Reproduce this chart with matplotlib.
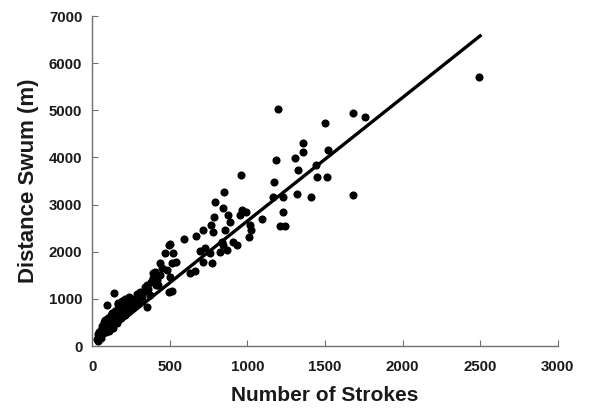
import matplotlib
matplotlib.use("Agg")
import matplotlib.pyplot as plt

# strokes vs distance
strokes = [30, 35, 40, 45, 50, 55, 60, 65, 70, 75, 80, 85, 90, 95, 95, 100, 105, 110, 115, 120,
           125, 130, 135, 140, 144, 150, 155, 160, 165, 169, 170, 175, 180, 185, 190, 200, 205, 210,
           215, 220, 230, 235, 240, 250, 255, 260, 270, 280, 290, 300, 310, 320, 330, 340, 352, 352,
           360, 373, 380, 391, 395, 406, 410, 420, 427, 438, 440, 450, 470, 481, 498, 498, 502, 502,
           513, 513, 524, 541,
           590, 631, 663, 668, 695, 717, 717, 728, 760, 764, 771, 777, 786, 792, 824, 840, 845, 845,
           850, 856, 867, 878, 889, 910, 932, 953, 957, 964, 992, 1013, 1017, 1022, 1093,
           1168, 1172, 1185, 1200, 1211, 1232, 1232, 1243, 1307, 1318, 1329, 1357, 1357, 1408, 1442,
           1447, 1500, 1511, 1522, 1678, 1683, 1758, 2490]
distance = [150, 250, 100, 300, 200, 350, 180, 420, 280, 500, 350, 560, 300, 450, 870, 400, 600, 330, 520, 650,
            450, 700, 380, 560, 1120, 750, 620, 480, 800, 905, 900, 700, 850, 600, 950, 780, 880, 650,
            1000, 820, 900, 750, 1050, 850, 950, 800, 1000, 900, 1100, 950, 1150, 1050, 1152, 1250, 834, 1294,
            1200, 1082, 1350, 1542, 1436, 1576, 1300, 1400, 1294, 1754, 1500, 1650, 1966, 1612, 1152, 2143, 1470, 2164,
            1173, 1754, 1966, 1789,
            2270, 1542, 1597, 2330, 2022, 2461, 1789, 2072, 1966, 2567, 1754, 2425, 2729, 3062, 2001, 2213, 2143, 2920,
            3274, 2461, 2036, 2779, 2637, 2213, 2143, 2779, 3627, 2885, 2836, 2319, 2567, 2461, 2688,
            3168, 3486, 3946, 5030, 2546, 3154, 2850, 2546, 3981, 3224, 3734, 4313, 4122, 3154, 3840,
            3592, 4724, 3578, 4158, 3203, 4940, 4865, 5700]

# regression line end points
fit_x = [30, 2500]
fit_y = [110, 6580]

fig = plt.figure(figsize=(5.94, 4.11), dpi=100)
ax = fig.add_axes([0.155, 0.158, 0.784, 0.803])

ax.scatter(strokes, distance, s=34, color="black", zorder=3, linewidths=0)
ax.plot(fit_x, fit_y, color="black", lw=2.4, zorder=4)

ax.set_xlim(0, 3000)
ax.set_ylim(0, 7000)
ax.set_xticks(range(0, 3001, 500))
ax.set_yticks(range(0, 7001, 1000))

for s in ["top", "right"]:
    ax.spines[s].set_visible(False)
for s in ["left", "bottom"]:
    ax.spines[s].set_color("#707070")
    ax.spines[s].set_linewidth(1.0)

ax.tick_params(direction="in", length=4, color="#707070", labelsize=10.8, labelcolor="#1a1a1a")
ax.tick_params(axis="y", pad=7)
ax.tick_params(axis="x", pad=10)
for lab in ax.get_xticklabels() + ax.get_yticklabels():
    lab.set_fontfamily("Liberation Sans")
    lab.set_fontweight("bold")

ax.set_xlabel("Number of Strokes", fontsize=15, fontweight="bold", family="Liberation Sans",
              color="#1a1a1a", labelpad=9)
ax.set_ylabel("Distance Swum (m)", fontsize=16, fontweight="bold", family="Liberation Sans",
              color="#1a1a1a", labelpad=7)

fig.savefig("out.png", dpi=100)
